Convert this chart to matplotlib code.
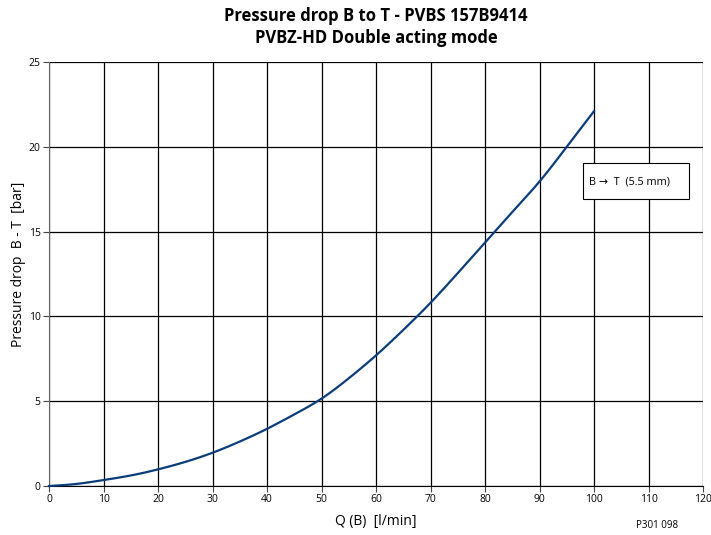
import matplotlib
matplotlib.use("Agg")
import matplotlib.pyplot as plt
from matplotlib.patches import Rectangle
import numpy as np

plt.rcParams['font.family'] = ['Open Sans', 'DejaVu Sans']

flow = [0, 5, 10, 15, 20, 25, 30, 35, 40, 45, 50, 55, 60, 65, 70, 75, 80, 85, 90, 95, 100]
pressure = [0, 0.12, 0.35, 0.62, 0.98, 1.42, 1.96, 2.62, 3.37, 4.22, 5.15, 6.35, 7.7, 9.2,
            10.8, 12.55, 14.35, 16.15, 17.95, 20.0, 22.1]
x_ticks = list(range(0, 121, 10))
y_ticks = [0, 5, 10, 15, 20, 25]
legend_label = "B \u2192  T  (5.5 mm)"

fig = plt.figure(figsize=(7.11, 5.35), dpi=100)
ax = fig.add_axes([49/711, 1-486/535, (703-49)/711, (486-62)/535])


def cubic_spline(x, y, xq):
    x = np.asarray(x, float); y = np.asarray(y, float)
    n = len(x)
    h = np.diff(x)
    A = np.zeros((n, n)); b = np.zeros(n)
    A[0, 0] = 1; A[-1, -1] = 1
    for i in range(1, n-1):
        A[i, i-1] = h[i-1]; A[i, i] = 2*(h[i-1]+h[i]); A[i, i+1] = h[i]
        b[i] = 3*((y[i+1]-y[i])/h[i] - (y[i]-y[i-1])/h[i-1])
    c = np.linalg.solve(A, b)
    out = np.empty_like(xq)
    for k, q in enumerate(xq):
        i = min(np.searchsorted(x, q) - 1, n-2); i = max(i, 0)
        dx = q - x[i]
        bb = (y[i+1]-y[i])/h[i] - h[i]*(2*c[i]+c[i+1])/3
        d = (c[i+1]-c[i])/(3*h[i])
        out[k] = y[i] + bb*dx + c[i]*dx**2 + d*dx**3
    return out


xs = np.linspace(0, 100, 400)
ys = cubic_spline(flow, pressure, xs)
ax.plot(xs, ys, color='#0b3d7a', lw=1.6, zorder=3, clip_on=False)

ax.set_xlim(0, 120)
ax.set_ylim(0, 25)
ax.set_xticks(x_ticks)
ax.set_yticks(y_ticks)
ax.grid(True, color='black', lw=0.9)
for s in ['top', 'right']:
    ax.spines[s].set_visible(False)
ax.spines['left'].set_color('#666666')
ax.spines['bottom'].set_color('black')
ax.tick_params(axis='both', labelsize=7.5, length=4, width=0.8, color='#444444', pad=2)

ax.add_patch(Rectangle((97.9, 16.9), 19.55, 2.16, fc='white', ec='black', lw=0.8, zorder=5))
ax.text(99.1, 17.95, legend_label, fontsize=7.8, ha='left', va='center', zorder=6)

ax.set_xlabel("Q (B)  [l/min]", fontsize=10, labelpad=6)
fig.text(19/711, 1-264/535, "Pressure drop  B - T  [bar]", fontsize=10, rotation=90,
         ha='center', va='center')

fig.text(376/711, 1-7/535, "Pressure drop B to T - PVBS 157B9414\nPVBZ-HD Double acting mode",
         ha='center', va='top', fontsize=12, fontweight='bold', linespacing=1.3)
fig.text(678/711, 1-525/535, "P301 098", ha='right', va='center', fontsize=7)

fig.savefig("out.png", dpi=100)
